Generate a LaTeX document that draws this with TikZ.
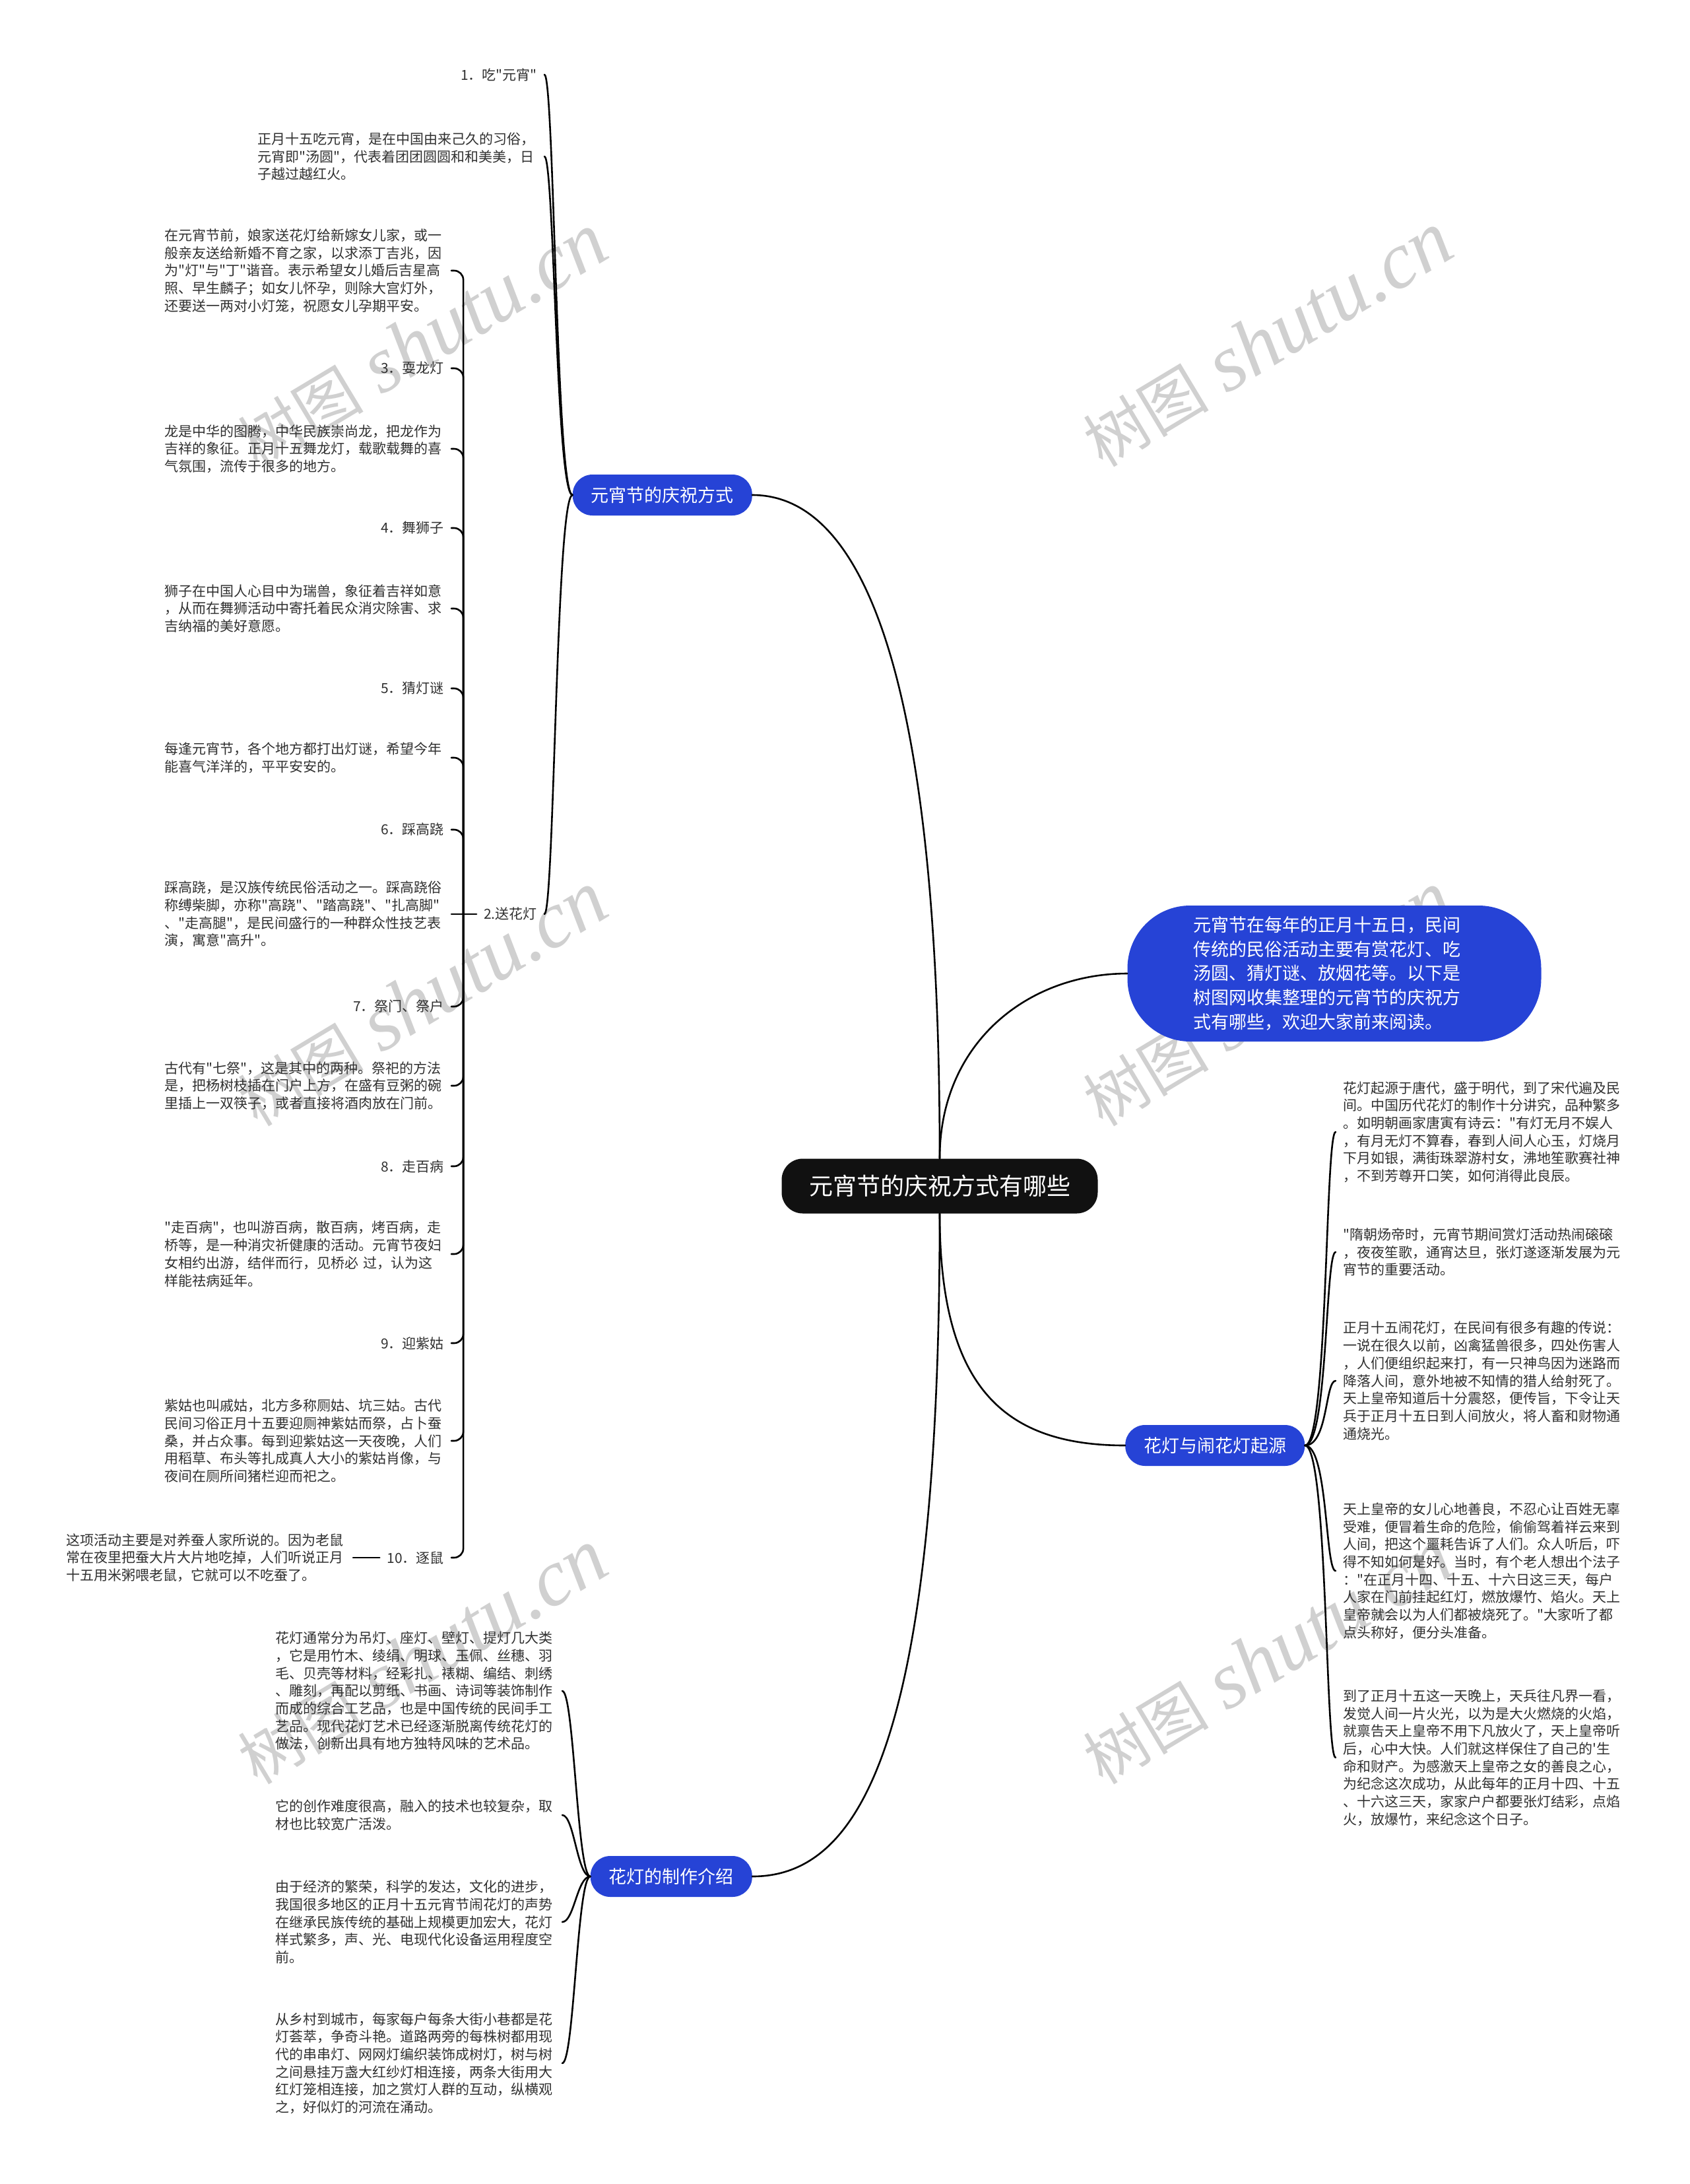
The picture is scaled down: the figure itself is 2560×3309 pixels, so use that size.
\documentclass[tikz,border=0pt]{standalone}
\usepackage{fontspec}
\setmainfont{Noto Sans CJK SC}[Ligatures=TeXOff]
\newfontfamily\wmcjk{Noto Sans CJK SC}
\newfontfamily\wmlat{Liberation Serif}
\usetikzlibrary{calc}
\definecolor{nodeblue}{HTML}{2643D6}
\definecolor{txtcol}{HTML}{303030}
\definecolor{rootcol}{HTML}{111111}
\definecolor{wmcol}{HTML}{D0D0D0}
\tikzset{
  lbl/.style={font=\fontsize{21}{26.7}\selectfont, text=txtcol, inner xsep=11pt, inner ysep=2pt},
  para/.style={lbl, text width=423pt, align=left},
  branch/.style={fill=nodeblue, text=white, rounded corners=30pt, minimum height=62pt, inner xsep=28pt, inner ysep=0pt, font=\fontsize{27}{32}\selectfont},
  link/.style={draw=black, line width=2.6pt, line cap=round},
  hook/.style={link, rounded corners=14pt},
  wmark/.style={text=wmcol, rotate=31, inner sep=0pt},
}
\newcommand{\wmtext}{{\wmcjk\fontsize{95}{95}\selectfont 树图}\hspace{28pt}{\wmlat\itshape\fontsize{122}{122}\selectfont shutu.cn}}
\begin{document}
\begin{tikzpicture}[x=1pt,y=-1pt]
\useasboundingbox (0,0) rectangle (2560,3309);
\fill[white] (0,0) rectangle (2560,3309);

% watermarks
\node[wmark] (wm1) at (640,517) {\wmtext};
\node[wmark] (wm2) at (640,1514) {\wmtext};
\node[wmark] (wm3) at (640,2511) {\wmtext};
\node[wmark] (wm4) at (1921,515) {\wmtext};
\node[wmark] (wm5) at (1921,1514) {\wmtext};
\node[wmark] (wm6) at (1921,2511) {\wmtext};

% root and main nodes
\node[fill=rootcol, text=white, rounded corners=32pt, minimum width=479pt, minimum height=83pt, inner sep=0pt, font=\fontsize{36}{40}\selectfont] (root) at (1424,1797) {元宵节的庆祝方式有哪些};

\node[fill=nodeblue, text=white, rounded corners=95pt, minimum width=627pt, minimum height=206pt, text width=428pt, align=left, inner sep=0pt, font=\fontsize{27}{36.7}\selectfont] (desc) at (2022,1475) {元宵节在每年的正月十五日，民间\\传统的民俗活动主要有赏花灯、吃\\汤圆、猜灯谜、放烟花等。以下是\\树图网收集整理的元宵节的庆祝方\\式有哪些，欢迎大家前来阅读。};

\node[branch, anchor=east] (yx) at (1140,750) {元宵节的庆祝方式};
\node[branch, anchor=east] (zz) at (1140,2843) {花灯的制作介绍};
\node[branch, anchor=west] (qy) at (1705,2190) {花灯与闹花灯起源};

% left level 1
\node[lbl, anchor=east] (c1) at (825,113) {1．吃"元宵"};
\node[para, anchor=east] (c1p) at (825,237) {正月十五吃元宵，是在中国由来己久的习俗，\\元宵即"汤圆"，代表着团团圆圆和和美美，日\\子越过越红火。};
\node[lbl, anchor=east] (sh) at (825,1385) {2.送花灯};

% left level 2
\node[para, anchor=east] (s1) at (684,410) {在元宵节前，娘家送花灯给新嫁女儿家，或一\\般亲友送给新婚不育之家，以求添丁吉兆，因\\为"灯"与"丁"谐音。表示希望女儿婚后吉星高\\照、早生麟子；如女儿怀孕，则除大宫灯外，\\还要送一两对小灯笼，祝愿女儿孕期平安。};
\node[lbl, anchor=east] (s2) at (684,558) {3．耍龙灯};
\node[para, anchor=east] (s3) at (684,680) {龙是中华的图腾，中华民族崇尚龙，把龙作为\\吉祥的象征。正月十五舞龙灯，载歌载舞的喜\\气氛围，流传于很多的地方。};
\node[lbl, anchor=east] (s4) at (684,800) {4．舞狮子};
\node[para, anchor=east] (s5) at (684,922) {狮子在中国人心目中为瑞兽，象征着吉祥如意\\，从而在舞狮活动中寄托着民众消灾除害、求\\吉纳福的美好意愿。};
\node[lbl, anchor=east] (s6) at (684,1043) {5．猜灯谜};
\node[para, anchor=east] (s7) at (684,1148) {每逢元宵节，各个地方都打出灯谜，希望今年\\能喜气洋洋的，平平安安的。};
\node[lbl, anchor=east] (s8) at (684,1257) {6．踩高跷};
\node[para, anchor=east] (s9) at (684,1385) {踩高跷，是汉族传统民俗活动之一。踩高跷俗\\称缚柴脚，亦称"高跷"、"踏高跷"、"扎高脚"\\、"走高腿"，是民间盛行的一种群众性技艺表\\演，寓意"高升"。};
\node[lbl, anchor=east] (s10) at (684,1525) {7．祭门、祭户};
\node[para, anchor=east] (s11) at (684,1645) {古代有"七祭"，这是其中的两种。祭祀的方法\\是，把杨树枝插在门户上方，在盛有豆粥的碗\\里插上一双筷子，或者直接将酒肉放在门前。};
\node[lbl, anchor=east] (s12) at (684,1767) {8．走百病};
\node[para, anchor=east] (s13) at (684,1900) {"走百病"，也叫游百病，散百病，烤百病，走\\桥等，是一种消灾祈健康的活动。元宵节夜妇\\女相约出游，结伴而行，见桥必 过，认为这\\样能祛病延年。};
\node[lbl, anchor=east] (s14) at (684,2035) {9．迎紫姑};
\node[para, anchor=east] (s15) at (684,2183) {紫姑也叫戚姑，北方多称厕姑、坑三姑。古代\\民间习俗正月十五要迎厕神紫姑而祭，占卜蚕\\桑，并占众事。每到迎紫姑这一天夜晚，人们\\用稻草、布头等扎成真人大小的紫姑肖像，与\\夜间在厕所间猪栏迎而祀之。};
\node[lbl, anchor=east] (s16) at (684,2360) {10．逐鼠};
\node[para, anchor=east] (s17) at (535,2360) {这项活动主要是对养蚕人家所说的。因为老鼠\\常在夜里把蚕大片大片地吃掉，人们听说正月\\十五用米粥喂老鼠，它就可以不吃蚕了。};

% bottom branch children
\node[para, anchor=east] (q1) at (852,2562) {花灯通常分为吊灯、座灯、壁灯、提灯几大类\\，它是用竹木、绫绢、明球、玉佩、丝穗、羽\\毛、贝壳等材料，经彩扎、裱糊、编结、刺绣\\、雕刻，再配以剪纸、书画、诗词等装饰制作\\而成的综合工艺品，也是中国传统的民间手工\\艺品。现代花灯艺术已经逐渐脱离传统花灯的\\做法，创新出具有地方独特风味的艺术品。};
\node[para, anchor=east] (q2) at (852,2750) {它的创作难度很高，融入的技术也较复杂，取\\材也比较宽广活泼。};
\node[para, anchor=east] (q3) at (852,2912) {由于经济的繁荣，科学的发达，文化的进步，\\我国很多地区的正月十五元宵节闹花灯的声势\\在继承民族传统的基础上规模更加宏大，花灯\\样式繁多，声、光、电现代化设备运用程度空\\前。};
\node[para, anchor=east] (q4) at (852,3126) {从乡村到城市，每家每户每条大街小巷都是花\\灯荟萃，争奇斗艳。道路两旁的每株树都用现\\代的串串灯、网网灯编织装饰成树灯，树与树\\之间悬挂万盏大红纱灯相连接，两条大街用大\\红灯笼相连接，加之赏灯人群的互动，纵横观\\之，好似灯的河流在涌动。};

% right branch children
\node[para, anchor=west] (r1) at (2024,1715) {花灯起源于唐代，盛于明代，到了宋代遍及民\\间。中国历代花灯的制作十分讲究，品种繁多\\。如明朝画家唐寅有诗云："有灯无月不娱人\\，有月无灯不算春，春到人间人心玉，灯烧月\\下月如银，满街珠翠游村女，沸地笙歌赛社神\\，不到芳尊开口笑，如何消得此良辰。};
\node[para, anchor=west] (r2) at (2024,1897) {"隋朝炀帝时，元宵节期间赏灯活动热闹磙磙\\，夜夜笙歌，通宵达旦，张灯遂逐渐发展为元\\宵节的重要活动。};
\node[para, anchor=west] (r3) at (2024,2092) {正月十五闹花灯，在民间有很多有趣的传说：\\一说在很久以前，凶禽猛兽很多，四处伤害人\\，人们便组织起来打，有一只神鸟因为迷路而\\降落人间，意外地被不知情的猎人给射死了。\\天上皇帝知道后十分震怒，便传旨，下令让天\\兵于正月十五日到人间放火，将人畜和财物通\\通烧光。};
\node[para, anchor=west] (r4) at (2024,2380) {天上皇帝的女儿心地善良，不忍心让百姓无辜\\受难，便冒着生命的危险，偷偷驾着祥云来到\\人间，把这个噩耗告诉了人们。众人听后，吓\\得不知如何是好。当时，有个老人想出个法子\\："在正月十四、十五、十六日这三天，每户\\人家在门前挂起红灯，燃放爆竹、焰火。天上\\皇帝就会以为人们都被烧死了。"大家听了都\\点头称好，便分头准备。};
\node[para, anchor=west] (r5) at (2024,2663) {到了正月十五这一天晚上，天兵往凡界一看，\\发觉人间一片火光，以为是大火燃烧的火焰，\\就禀告天上皇帝不用下凡放火了，天上皇帝听\\后，心中大快。人们就这样保住了自己的'生\\命和财产。为感激天上皇帝之女的善良之心，\\为纪念这次成功，从此每年的正月十四、十五\\、十六这三天，家家户户都要张灯结彩，点焰\\火，放爆竹，来纪念这个日子。};

% main connectors
\draw[link] (root.north) .. controls +(0,-756) and +(160,0) .. (yx.east);
\draw[link] (root.north) .. controls +(0,-176) and +(-150,0) .. (desc.west);
\draw[link] (root.south) .. controls +(0,262) and +(-185,0) .. (qy.west);
\draw[link] (root.south) .. controls +(0,812) and +(160,0) .. (zz.east);

% left level 1 connectors
\draw[link] (yx.west) .. controls +(-25,0) and +(15,0) .. (c1.east);
\draw[link] (yx.west) .. controls +(-25,0) and +(15,0) .. (c1p.east);
\draw[link] (yx.west) .. controls +(-25,0) and +(15,0) .. (sh.east);

% left level 2 connectors
\coordinate (shj) at ($(sh.west)+(-20,0)$);
\draw[link] (sh.west) -- (shj);
\foreach \n in {s1,s2,s3,s4,s5,s6,s7,s8,s10,s11,s12,s13,s14,s15,s16}
  \draw[hook] (shj) |- (\n.east);
\draw[link] (shj) -- (s9.east);
\draw[link] (s16.west) -- (s17.east);

% bottom connectors
\foreach \n in {q1,q2,q3,q4}
  \draw[link] (zz.west) .. controls +(-20,0) and +(18,0) .. (\n.east);

% right connectors
\foreach \n in {r1,r2,r3,r4,r5}
  \draw[link] (qy.east) .. controls +(35,0) and +(-16,0) .. (\n.west);
\end{tikzpicture}
\end{document}
